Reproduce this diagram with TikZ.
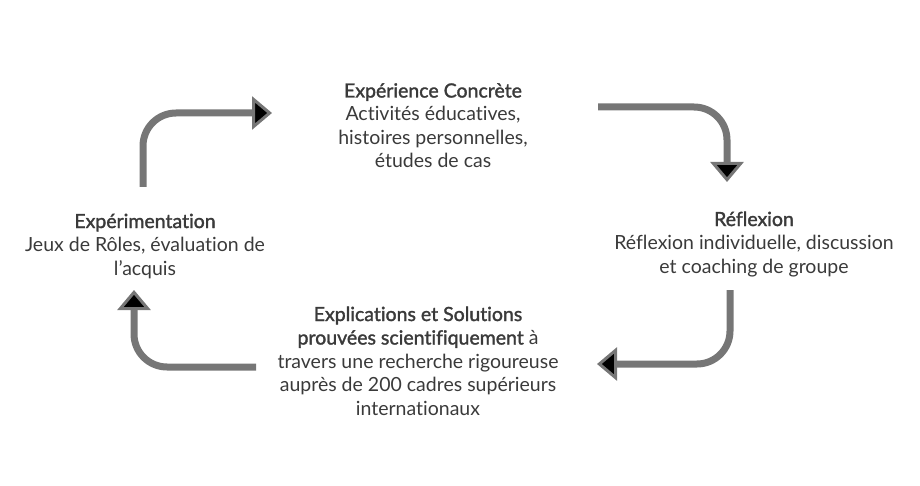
\documentclass[tikz,border=0pt]{standalone}
\usepackage{fontspec}
\setmainfont{Lato}[Ligatures=NoCommon, BoldFont=Lato, BoldFeatures={FakeBold=1.6}]
\usetikzlibrary{arrows.meta}
\definecolor{arrowgray}{RGB}{118,118,118}
\definecolor{textgray}{RGB}{58,58,58}
\tikzset{
  cyclearrow/.style={line width=7pt, draw=arrowgray, rounded corners=33pt,
    -{Triangle[length=20pt,width=33pt,line width=3pt,fill=black]}},
  stage/.style={align=center, anchor=base, inner sep=0pt, text=textgray,
    font=\fontsize{19.5}{23.5}\selectfont},
}
\begin{document}
\begin{tikzpicture}[x=1pt,y=-1pt]
	\useasboundingbox (0,0) rectangle (920,486);
	
	% Draw stages (base = last line)
	\node[stage] (concrete) at (433,168) {\textbf{Expérience Concrète}\\Activités éducatives,\\histoires personnelles,\\études de cas};
	\node[stage] (reflect) at (754,273) {\textbf{Réflexion}\\Réflexion individuelle, discussion\\et coaching de groupe};
	\node[stage] (explain) at (418,415) {\textbf{Explications et Solutions}\\\textbf{prouvées scientifiquement} à\\travers une recherche rigoureuse\\auprès de 200 cadres supérieurs\\internationaux};
	\node[stage] (experiment) at (145,275) {\textbf{Expérimentation}\\Jeux de Rôles, évaluation de\\l’acquis};
	
	% Define arrow ends
	\coordinate (a1s) at (143,187);
	\coordinate (a1e) at (272,113);
	\coordinate (a2s) at (598,107);
	\coordinate (a2e) at (727,182);
	\coordinate (a3s) at (730,290);
	\coordinate (a3e) at (597,364);
	\coordinate (a4s) at (256,367);
	\coordinate (a4e) at (134,290);
	
	% Draw arrows
	\draw[cyclearrow] (a1s) |- (a1e);
	\draw[cyclearrow] (a2s) -| (a2e);
	\draw[cyclearrow] (a3s) |- (a3e);
	\draw[cyclearrow] (a4s) -| (a4e);
	
\end{tikzpicture}
\end{document}
